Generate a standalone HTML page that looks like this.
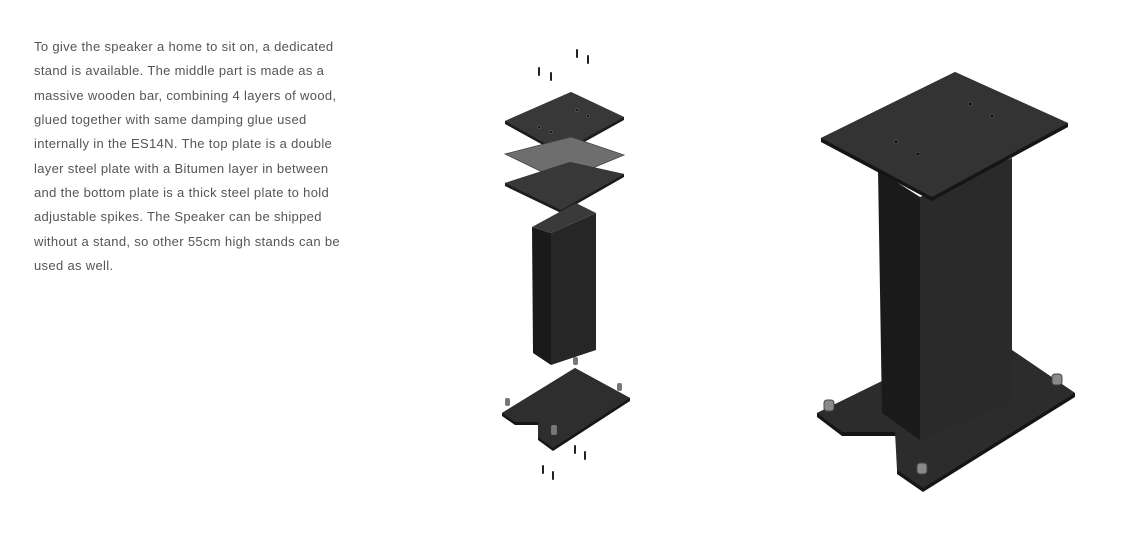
<!DOCTYPE html>
<html><head><meta charset="utf-8"><style>
html,body{margin:0;padding:0;background:#fff;width:1128px;height:557px;overflow:hidden}
.t{position:absolute;left:34px;top:35px;font-family:"Liberation Sans",sans-serif;font-size:13px;line-height:24.35px;letter-spacing:0.33px;color:#555;white-space:nowrap}
svg{position:absolute;left:0;top:0}
</style></head><body>
<div class="t">To give the speaker a home to sit on, a dedicated<br>stand is available. The middle part is made as a<br>massive wooden bar, combining 4 layers of wood,<br>glued together with same damping glue used<br>internally in the ES14N. The top plate is a double<br>layer steel plate with a Bitumen layer in between<br>and the bottom plate is a thick steel plate to hold<br>adjustable spikes. The Speaker can be shipped<br>without a stand, so other 55cm high stands can be<br>used as well.</div>
<svg width="1128" height="557" viewBox="0 0 1128 557">
<g stroke="#222" stroke-width="2" stroke-linecap="round">
<line x1="577" y1="50" x2="577" y2="57"/><line x1="588" y1="56" x2="588" y2="63"/>
<line x1="539" y1="68" x2="539" y2="75"/><line x1="551" y1="73" x2="551" y2="80"/>
<line x1="575" y1="446" x2="575" y2="453"/><line x1="585" y1="452" x2="585" y2="459"/>
<line x1="543" y1="466" x2="543" y2="473"/><line x1="553" y1="472" x2="553" y2="479"/>
</g>
<!-- exploded -->
<polygon points="571,92 624,117 624,120 561,155 505,124 505,121" fill="#1c1c1c"/>
<polygon points="571,92 624,117 561,152 505,121" fill="#383838"/>
<polygon points="571,137 624,155 561,181 505,154" fill="#6e6e6e" stroke="#444" stroke-width="0.8"/>
<polygon points="570,162 624,174 624,177 561,213 505,186 505,183" fill="#1c1c1c"/>
<polygon points="570,162 624,174 561,210 505,183" fill="#383838"/>
<polygon points="532,227 551,233 551,365 533,353" fill="#1a1a1a"/>
<polygon points="551,233 596,213 596,350 551,365" fill="#262626"/>
<polygon points="576,203 596,213 551,233 532,227" fill="#3a3a3a"/>
<polygon points="575,368 630,398 630,401 553,451 538,440 538,425 515,425 502,416 502,413" fill="#151515"/>
<polygon points="575,368 630,398 553,448 538,437 538,422 515,422 502,413" fill="#2e2e2e"/>
<g fill="#777"><rect x="573" y="357" width="5" height="8" rx="2"/><rect x="617" y="383" width="5" height="8" rx="2"/><rect x="505" y="398" width="5" height="8" rx="2"/><rect x="551" y="425" width="6" height="10" rx="2"/></g>
<!-- assembled -->
<polygon points="984,331 1075,393 1075,397 923,492 897,474 897,436 842,436 817,417 817,413" fill="#151515"/>
<polygon points="984,331 1075,393 923,488 897,470 895,432 842,432 817,413" fill="#2c2c2c"/>
<polygon points="878,170 920,197 920,440 882,413" fill="#1a1a1a"/>
<polygon points="920,197 1012,158 1012,403 920,440" fill="#2a2a2a"/>
<polygon points="955,72 1068,123 1068,127 932,201 821,142 821,138" fill="#151515"/>
<polygon points="955,72 1068,123 932,197 821,138" fill="#333"/>
<g fill="#8a8a8a" stroke="#444"><rect x="824" y="400" width="10" height="11" rx="3"/><rect x="1052" y="374" width="10" height="11" rx="3"/><rect x="917" y="463" width="10" height="11" rx="3"/></g>
<g fill="#111" stroke="#555" stroke-width="0.8"><circle cx="970" cy="104" r="2"/><circle cx="992" cy="116" r="2"/><circle cx="896" cy="142" r="2"/><circle cx="918" cy="154" r="2"/>
<circle cx="577" cy="110" r="1.5"/><circle cx="588" cy="116" r="1.5"/><circle cx="539" cy="127" r="1.5"/><circle cx="551" cy="132" r="1.5"/></g>
</svg>
</body></html>
